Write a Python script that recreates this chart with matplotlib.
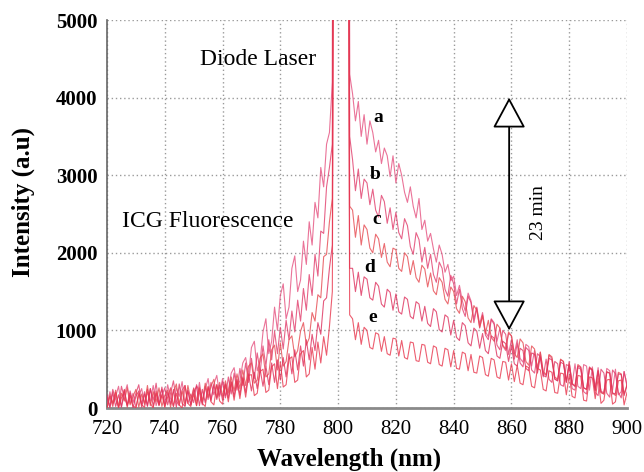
import numpy as np
import matplotlib
matplotlib.use("Agg")
import matplotlib.pyplot as plt
from matplotlib.patches import FancyArrowPatch

plt.rcParams['font.family'] = ['Liberation Serif', 'DejaVu Serif']

# Wavelength axis, 1 nm sampling from 720 to 900 nm
wavelength = np.arange(720, 901)

# Spectra recorded at successive times (a = first, e = last, 23 min apart)
spec_a = [
    30, 210, 60, 150, 280, 20, 170, 300, 60, 190,
    10, 160, 250, 40, 200, 90, 290, 30, 150, 240,
    50, 300, 120, 20, 260, 150, 340, 60, 220, 40,
    260, 90, 330, 70, 240, 380, 110, 310, 420, 170,
    380, 160, 230, 450, 520, 280, 350, 580, 650, 420,
    780, 860, 480, 600, 980, 1150, 700, 860, 1300, 1000,
    1450, 1600, 1150, 1300, 1800, 1960, 1500, 1650, 2150, 1850,
    2400, 2100, 2650, 2450, 3100, 2850, 3400, 3550,
    4200, 30000, 40000, 45000, 40000, 30000, 4300,
    4050, 3700, 3950, 3500, 3780,
    3400, 3700, 3550, 3300, 3450, 3150, 3350, 3250, 2980, 3250,
    2900, 3150, 3000, 2780, 2650, 2850, 2600, 2450, 2700, 2300,
    2420, 2150, 2250, 2050, 1880, 2100, 1980, 1750, 1850, 1640,
    1700, 1450, 1580, 1380, 1250, 1480, 1380, 1150, 1300, 1080,
    1230, 980, 920, 1150, 1100, 860, 1030, 800, 740, 960,
    930, 700, 880, 640, 590, 820, 790, 540, 740, 500,
    720, 450, 420, 680, 640, 380, 350, 620, 600, 330,
    600, 300, 570, 280, 250, 560, 540, 230, 530, 260,
    520, 200, 180, 510, 480, 230, 500, 170, 210, 470,
    300,
]
spec_b = [
    170, 20, 240, 110, 10, 280, 130, 40, 220, 70,
    190, 300, 50, 210, 20, 250, 100, 320, 40, 160,
    260, 40, 190, 350, 90, 30, 230, 290, 60, 180,
    70, 300, 190, 40, 280, 110, 330, 170, 300, 150,
    340, 130, 400, 180, 450, 230, 510, 290, 580, 330,
    640, 380, 710, 460, 800, 540, 880, 620, 990, 700,
    1040, 760, 1130, 880, 1250, 980, 1390, 1120, 1540, 1260,
    1720, 1450, 1980, 1700, 2280, 2250, 2850, 3100,
    3400, 25000, 40000, 40000, 40000, 25000, 3500,
    3200, 2800, 3080, 2700, 2950,
    2900, 2620, 2820, 2550, 2460, 2740, 2660, 2380, 2580, 2300,
    2520, 2260, 2180, 2440, 2350, 2080, 1980, 2260, 2170, 1880,
    2070, 1800, 1980, 1720, 1620, 1880, 1800, 1530, 1440, 1710,
    1600, 1340, 1530, 1280, 1180, 1440, 1360, 1100, 1290, 1030,
    1200, 940, 880, 1140, 1080, 810, 750, 1000, 950, 690,
    880, 630, 830, 580, 530, 780, 740, 490, 450, 700,
    660, 400, 630, 370, 330, 600, 570, 300, 280, 560,
    540, 250, 230, 520, 500, 210, 180, 530, 480, 200,
    160, 500, 450, 190, 140, 490, 440, 200, 130, 470,
    280,
]
spec_c = [
    0, 170, 60, 230, 20, 190, 90, 260, 40, 150,
    240, 10, 180, 60, 290, 30, 210, 80, 260, 20,
    160, 230, 10, 200, 310, 50, 220, 30, 290, 110,
    250, 30, 270, 90, 320, 140, 280, 370, 130, 330,
    150, 350, 190, 400, 220, 440, 250, 490, 290, 540,
    580, 320, 360, 640, 700, 400, 440, 750, 810, 490,
    840, 540, 600, 880, 930, 660, 740, 990, 1100, 810,
    900, 1230, 1120, 1460, 1420, 1950, 1980, 2400,
    2700, 20000, 40000, 40000, 40000, 20000, 2600,
    2550, 2200, 2480, 2100, 2360,
    2300, 2060, 2000, 2240, 2180, 1940, 2120, 1880, 1820, 2060,
    2040, 1800, 1760, 2000, 1950, 1720, 1900, 1680, 1620, 1840,
    1790, 1560, 1740, 1510, 1460, 1680, 1620, 1400, 1340, 1560,
    1500, 1280, 1220, 1440, 1370, 1160, 1100, 1320, 1260, 1040,
    1190, 960, 1130, 910, 860, 1080, 1030, 810, 760, 980,
    930, 700, 650, 890, 840, 600, 550, 800, 760, 510,
    720, 470, 430, 690, 660, 400, 370, 630, 600, 340,
    580, 320, 280, 560, 530, 260, 240, 520, 500, 220,
    480, 200, 180, 470, 450, 200, 160, 460, 440, 180,
    300,
]
spec_d = [
    140, 0, 200, 20, 170, 10, 240, 30, 190, 0,
    150, 220, 10, 180, 30, 250, 20, 190, 40, 270,
    20, 200, 50, 240, 10, 310, 60, 20, 230, 40,
    200, 280, 30, 240, 70, 270, 90, 300, 110, 290,
    100, 310, 130, 340, 150, 370, 170, 400, 200, 440,
    220, 460, 250, 500, 280, 540, 300, 580, 330, 620,
    360, 650, 400, 700, 440, 750, 490, 800, 540, 880,
    620, 950, 740, 1100, 950, 1380, 1420, 1800,
    2100, 15000, 40000, 40000, 40000, 15000, 1800,
    1800, 1500, 1750, 1450, 1690,
    1660, 1420, 1390, 1620, 1570, 1340, 1300, 1530, 1490, 1260,
    1470, 1240, 1210, 1430, 1400, 1180, 1150, 1370, 1340, 1120,
    1310, 1090, 1050, 1280, 1240, 1010, 980, 1200, 1170, 940,
    1130, 910, 870, 1100, 1060, 840, 800, 1030, 990, 770,
    960, 740, 700, 930, 900, 670, 640, 860, 830, 600,
    800, 570, 540, 770, 740, 510, 480, 710, 690, 450,
    660, 420, 400, 640, 620, 370, 350, 590, 570, 330,
    560, 310, 280, 540, 520, 260, 240, 510, 490, 230,
    480, 210, 200, 460, 450, 180, 190, 440, 430, 160,
    290,
]
spec_e = [
    0, 150, 20, 200, 0, 130, 230, 10, 160, 30,
    0, 190, 40, 10, 240, 60, 0, 220, 30, 170,
    10, 140, 260, 20, 190, 40, 0, 290, 60, 20,
    180, 30, 250, 60, 20, 280, 80, 40, 300, 90,
    50, 300, 80, 330, 100, 350, 120, 380, 140, 420,
    430, 160, 190, 470, 500, 200, 230, 530, 570, 250,
    590, 270, 300, 630, 660, 330, 360, 700, 740, 400,
    440, 780, 500, 850, 580, 920, 680, 1050,
    1500, 12000, 40000, 40000, 40000, 12000, 1200,
    1150, 880, 1100, 820, 1040,
    1000, 780, 760, 970, 950, 730, 920, 700, 680, 900,
    890, 670, 870, 650, 630, 850, 840, 610, 600, 820,
    810, 590, 570, 800, 780, 560, 540, 770, 750, 530,
    740, 510, 500, 720, 700, 480, 690, 460, 450, 670,
    650, 430, 410, 640, 620, 400, 380, 600, 590, 360,
    570, 340, 550, 320, 300, 540, 520, 280, 260, 510,
    490, 240, 220, 480, 460, 200, 190, 450, 440, 170,
    430, 150, 130, 420, 410, 100, 90, 400, 390, 120,
    380, 60, 100, 360, 370, 50, 80, 350, 360, 40,
    200,
]

series_names = ['a', 'b', 'c', 'd', 'e']
series_values = [spec_a, spec_b, spec_c, spec_d, spec_e]
series_colors = ['#e5507f', '#e13c6b', '#e6484f', '#de2f5c', '#e8354c']

# Where each curve letter is placed (wavelength, intensity)
label_pos = {'a': (813.8, 3750), 'b': (812.8, 3015), 'c': (813.5, 2423),
             'd': (811.0, 1817), 'e': (812.0, 1160)}

x_ticks = list(range(720, 901, 20))
y_ticks = list(range(0, 5001, 1000))

fig = plt.figure(figsize=(6.44, 4.72), dpi=100)
ax = fig.add_axes([107 / 644, 64 / 472, 520 / 644, 388 / 472])

for vals, col in zip(series_values, series_colors):
    ax.plot(wavelength, vals, color=col, lw=0.8, alpha=0.8, zorder=3)

ax.set_xlim(720, 900)
ax.set_ylim(0, 5000)
ax.set_xticks(x_ticks)
ax.set_yticks(y_ticks)
ax.tick_params(axis='x', length=0, pad=9, labelsize=15)
ax.tick_params(axis='y', length=0, pad=7, labelsize=15)
for lab in ax.get_yticklabels():
    lab.set_fontweight('bold')

ax.grid(True, linestyle=(0, (1, 2)), color='#9a9a9a', lw=1.0, zorder=1)
ax.spines['top'].set_visible(False)
ax.spines['right'].set_visible(False)
ax.spines['left'].set_color('#666666')
ax.spines['left'].set_linestyle((0, (2, 1)))
ax.spines['left'].set_linewidth(1.2)
ax.spines['bottom'].set_color('#8a8a8a')
ax.spines['bottom'].set_linewidth(2)

ax.set_xlabel('Wavelength (nm)', fontsize=18, fontweight='bold')
ax.set_ylabel('Intensity (a.u)', fontsize=18, fontweight='bold')
ax.xaxis.set_label_coords(0.465, -0.103)
ax.yaxis.set_label_coords(-0.1385, 0.531)

ax.text(772.3, 4485, 'Diode Laser', fontsize=17, ha='center', va='center')
ax.text(755.0, 2397, 'ICG Fluorescence', fontsize=17, ha='center', va='center')
for name in series_names:
    px, py = label_pos[name]
    ax.text(px, py, name, fontsize=14, fontweight='bold', ha='center', va='center')

# Time arrow spanning the five acquisitions
arrow = FancyArrowPatch((859.2, 1000), (859.2, 4000),
                        arrowstyle='<|-|>,head_length=1.95,head_width=1.05',
                        mutation_scale=10, lw=1.3, edgecolor='black',
                        facecolor='white', shrinkA=0, shrinkB=0, zorder=5)
ax.add_patch(arrow)
ax.text(869.5, 2513, '23 min', fontsize=14, rotation=90, ha='center', va='center')

fig.savefig('out.png', dpi=100)
